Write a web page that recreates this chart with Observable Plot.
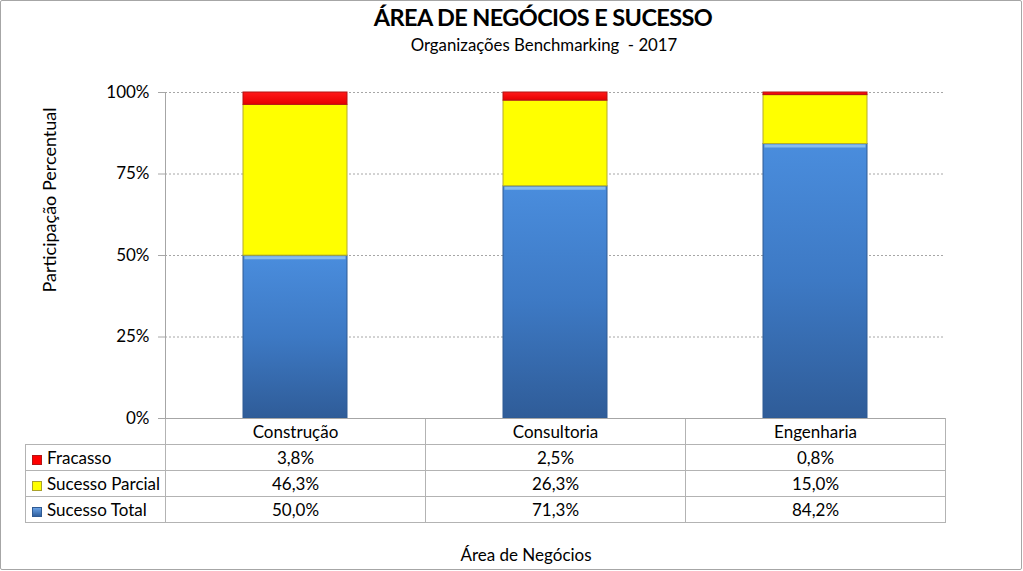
<!DOCTYPE html>
<html><head><meta charset="utf-8">
<script src="https://cdn.jsdelivr.net/npm/d3@7"></script>
<script src="https://cdn.jsdelivr.net/npm/@observablehq/plot@0.6"></script>
<style>
body{margin:0;background:#fff;font-family:Lato,"Noto Sans",sans-serif;color:#000;}
#wrap{position:relative;width:1023px;height:571px;overflow:hidden;background:#fff;}
#border{position:absolute;left:0;top:0;width:1020px;height:568px;border:1px solid #a6a6a6;border-radius:2px;}
.t{position:absolute;white-space:nowrap;transform:translateX(-50%);line-height:1;}
#chart{position:absolute;left:0;top:0;}
#tbl{position:absolute;border-collapse:collapse;table-layout:fixed;font-size:17px;}
#tbl td{border:1px solid #b3b3b3;height:25px;padding:0;text-align:center;vertical-align:middle;white-space:nowrap;}
#tbl td.lab{text-align:left;padding-left:6px;}
#tbl tr.head td.lab{border:none;}
.sw{display:inline-block;width:10px;height:10px;margin-right:5px;vertical-align:-1px;box-sizing:border-box;}
#ylab{position:absolute;left:49px;top:200px;transform:translate(-50%,-50%) rotate(-90deg);white-space:nowrap;font-size:18px;line-height:1;}
</style></head><body>
<div id="wrap">
 <div id="border"></div>
 <div id="title" class="t" style="left:543px;top:6px;font-weight:700;font-size:23.5px;letter-spacing:-0.6px;">ÁREA DE NEGÓCIOS E SUCESSO</div>
 <div id="sub" class="t" style="left:544px;top:37px;font-size:16.8px;">Organizações Benchmarking&nbsp; - 2017</div>
 <div id="ylab">Participação Percentual</div>
 <table id="tbl"></table>
 <div id="chart"></div>
 <div id="xlab" class="t" style="left:526px;top:546px;font-size:17px;">Área de Negócios</div>
</div>
<script>
// ---- data ----
const categories = ["Construção", "Consultoria", "Engenharia"];
const seriesNames = ["Sucesso Total", "Sucesso Parcial", "Fracasso"]; // bottom to top
const sucessoTotal = [50.0, 71.3, 84.2];
const sucessoParcial = [46.3, 26.3, 15.0];
const fracasso = [3.8, 2.5, 0.8];
const yTicks = [0, 0.25, 0.5, 0.75, 1];
const tableOrder = ["Fracasso", "Sucesso Parcial", "Sucesso Total"];

const valuesBySeries = {
  "Sucesso Total": sucessoTotal,
  "Sucesso Parcial": sucessoParcial,
  "Fracasso": fracasso
};
const rows = [];
seriesNames.forEach(s => categories.forEach((c, i) => rows.push({cat: c, series: s, value: valuesBySeries[s][i]})));

const fills = {"Sucesso Total": "url(#gBlue)", "Sucesso Parcial": "url(#gYellow)", "Fracasso": "url(#gRed)"};
const strokes = {"Sucesso Total": "#2f5a93", "Sucesso Parcial": "#b5ac2a", "Fracasso": "#b41414"};
const swatch = {"Sucesso Total": "linear-gradient(#6aa2e6,#2f5f9e)", "Sucesso Parcial": "#ffff00", "Fracasso": "#ff0000"};
const swatchBorder = {"Sucesso Total": "#2f5a93", "Sucesso Parcial": "#a9a12c", "Fracasso": "#b41414"};
const fmt = v => v.toFixed(1).replace(".", ",") + "%";

const chart = Plot.plot({
  width: 1023, height: 571,
  marginLeft: 165, marginRight: 78, marginTop: 92, marginBottom: 153,
  style: {background: "transparent", fontFamily: "Lato, 'Noto Sans', sans-serif", fontSize: "17px", color: "#000"},
  x: {domain: categories, paddingInner: 0.6, paddingOuter: 0.3, label: null},
  y: {domain: [0, 1], label: null},
  color: {domain: seriesNames, range: seriesNames.map(s => fills[s])},
  marks: [
    Plot.ruleY(yTicks.filter(d => d > 0), {stroke: "#a6a6a6", strokeDasharray: "2,2"}),
    Plot.barY(rows, Plot.stackY({x: "cat", y: "value", z: "series", fill: "series", offset: "normalize", order: seriesNames,
      stroke: d => strokes[d.series], strokeWidth: 1})),
    Plot.tickY(rows, Plot.stackY2({x: "cat", y: "value", z: "series", offset: "normalize", order: seriesNames,
      stroke: d => d.series === "Sucesso Total" ? "#86bbee" : "none", strokeWidth: 3, dy: 2, inset: 1.5})),
    Plot.ruleY([0], {stroke: "#a6a6a6"}),
    Plot.frame({anchor: "left", stroke: "#a6a6a6"}),
    Plot.axisY({ticks: yTicks, tickFormat: d3.format(".0%"), tickSize: 7, tickPadding: 9, stroke: "#a6a6a6", fill: "#000", fontSize: 17}),
    Plot.axisX({tickSize: 0, tickPadding: 7, fill: "#000", fontSize: 17})
  ]
});

// gradients
const ns = "http://www.w3.org/2000/svg";
const defs = document.createElementNS(ns, "defs");
function grad(id, stops) {
  const g = document.createElementNS(ns, "linearGradient");
  g.setAttribute("id", id); g.setAttribute("x1", 0); g.setAttribute("y1", 0); g.setAttribute("x2", 0); g.setAttribute("y2", 1);
  stops.forEach(([o, c]) => { const s = document.createElementNS(ns, "stop"); s.setAttribute("offset", o); s.setAttribute("stop-color", c); g.appendChild(s); });
  defs.appendChild(g);
}
grad("gBlue", [[0, "#4a8ddd"], [0.5, "#3d79c4"], [1, "#2f5c98"]]);
grad("gYellow", [[0, "#ffff00"], [1, "#ffff00"]]);
grad("gRed", [[0, "#ff1a1a"], [1, "#e60000"]]);
chart.insertBefore(defs, chart.firstChild);
document.getElementById("chart").appendChild(chart);

// data table aligned to the x band scale
const xs = chart.scale("x"), ys = chart.scale("y");
const tblLeft = 25;
const tbl = document.getElementById("tbl");
tbl.style.left = tblLeft + "px";
tbl.style.top = (ys.apply(0) - 0.5) + "px";
const colgroup = document.createElement("colgroup");
const c0 = document.createElement("col"); c0.style.width = (xs.range[0] - tblLeft) + "px"; colgroup.appendChild(c0);
categories.forEach(() => { const c = document.createElement("col"); c.style.width = xs.step + "px"; colgroup.appendChild(c); });
tbl.appendChild(colgroup);
const head = document.createElement("tr"); head.className = "head";
const h0 = document.createElement("td"); h0.className = "lab"; head.appendChild(h0);
categories.forEach(() => head.appendChild(document.createElement("td")));
tbl.appendChild(head);
tableOrder.forEach(s => {
  const tr = document.createElement("tr");
  const l = document.createElement("td"); l.className = "lab";
  const sw = document.createElement("span"); sw.className = "sw"; sw.style.background = swatch[s]; sw.style.border = "1px solid " + swatchBorder[s];
  l.appendChild(sw); l.appendChild(document.createTextNode(s)); tr.appendChild(l);
  valuesBySeries[s].forEach(v => { const td = document.createElement("td"); td.textContent = fmt(v); tr.appendChild(td); });
  tbl.appendChild(tr);
});
</script>
</body></html>
